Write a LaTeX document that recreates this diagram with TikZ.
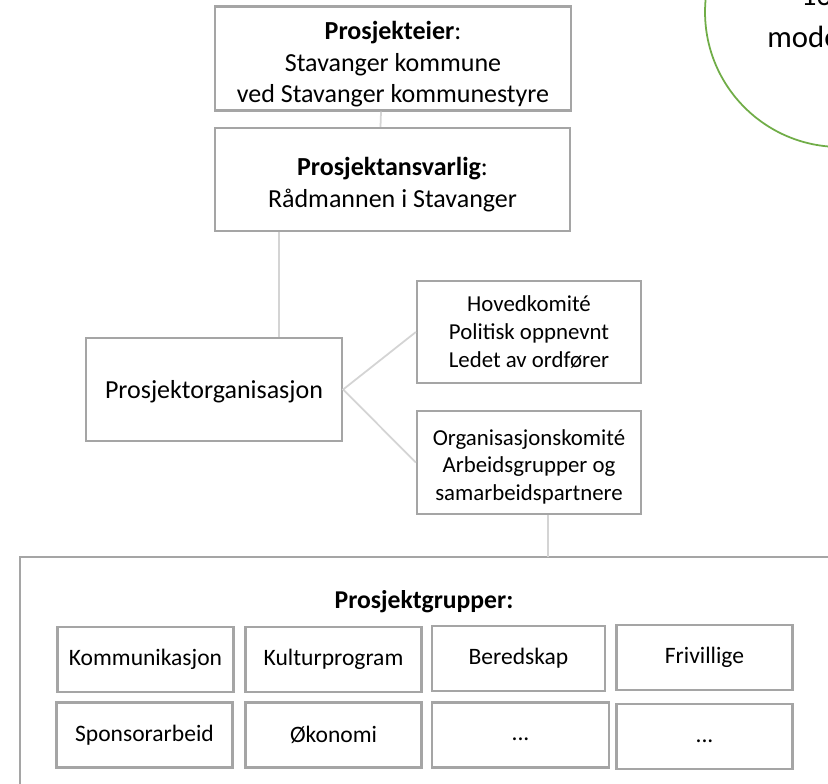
\documentclass[tikz,border=0pt]{standalone}
\usepackage{fontspec}
\setmainfont{Carlito}
\usetikzlibrary{positioning}
\definecolor{boxgray}{HTML}{A5A5A5}
\definecolor{linegray}{HTML}{D4D4D4}
\definecolor{ringgreen}{HTML}{70AD47}
\begin{document}
\begin{tikzpicture}[x=0.02cm,y=-0.02cm]
        \tikzset{orgbox/.style={draw=boxgray,line width=1.3pt,align=center,inner sep=0pt,font=\fontsize{14.8}{18}\selectfont},
                 smallbox/.style={orgbox,font=\fontsize{13}{15.8}\selectfont},
                 grpbox/.style={smallbox,font=\fontsize{13.4}{16}\selectfont,minimum width=3.52cm,minimum height=1.3cm},
                 conn/.style={draw=linegray,line width=1pt}};
        \clip (0,0) rectangle (828,784);
        \fill[white] (0,0) rectangle (828,784);
        \draw[ringgreen,line width=1pt] (840,12) circle[radius=2.7cm];
        \node[anchor=base west,inner sep=0pt,font=\fontsize{17}{20}\selectfont] (ringa) at (801,6) {13};
        \node[anchor=base west,inner sep=0pt,font=\fontsize{17.5}{20}\selectfont] (ringb) at (767,48) {mode};
        \node[orgbox,minimum width=7.12cm,minimum height=2.08cm] (eier) at (393,58.5) {\rule{0pt}{17pt}\textbf{Prosjekteier}:\\Stavanger kommune\\ved Stavanger kommunestyre};
        \node[orgbox,minimum width=7.1cm,minimum height=2.06cm] (ansvar) at (392.5,179.5) {\rule{0pt}{16pt}\textbf{Prosjektansvarlig}:\\Rådmannen i Stavanger};
        \node[orgbox,minimum width=5.12cm,minimum height=2.06cm] (org) at (214,389.5) {\rule{0pt}{13pt}Prosjektorganisasjon};
        \node[smallbox,minimum width=4.48cm,minimum height=2.04cm] (hoved) at (529,332) {Hovedkomité\\Politisk oppnevnt\\Ledet av ordfører};
        \node[smallbox,minimum width=4.48cm,minimum height=2.06cm] (orgkom) at (529,462.5) {\rule{0pt}{14pt}Organisasjonskomité\\Arbeidsgrupper og\\samarbeidspartnere};
        \draw[boxgray,line width=1.3pt] (850,557) -- (20,557) -- (20,800);
        \coordinate (grptop) at (548,557);
        \coordinate (knee) at (279,0);
        \node[font=\fontsize{14.6}{17}\selectfont\bfseries] (grupper) at (424,602) {Prosjektgrupper:};
        \node[grpbox] (kom) at (145.5,659.5) {Kommunikasjon};
        \node[grpbox] (kultur) at (333.5,659.5) {Kulturprogram};
        \node[grpbox,minimum width=3.46cm] (bered) at (518.5,658.5) {Beredskap};
        \node[grpbox] (friv) at (704.5,657.5) {Frivillige};
        \node[grpbox] (sponsor) at (144.5,735) {Sponsorarbeid};
        \node[grpbox] (okonomi) at (333.5,735) {Økonomi};
        \node[grpbox,minimum width=3.54cm] (mer1) at (520.5,735) {\strut...};
        \node[grpbox] (mer2) at (704.5,736.5) {\strut...};
        \draw[conn] ([xshift=-0.24cm]eier.south) -- ([xshift=-0.24cm]ansvar.north);
        \draw[conn] (ansvar.south -| knee) -- (org.north -| knee);
        \draw[conn] (hoved.west) -- (org.east) -- (orgkom.west);
        \draw[conn] (orgkom.south -| grptop) -- (grptop);
    \end{tikzpicture}
\end{document}
